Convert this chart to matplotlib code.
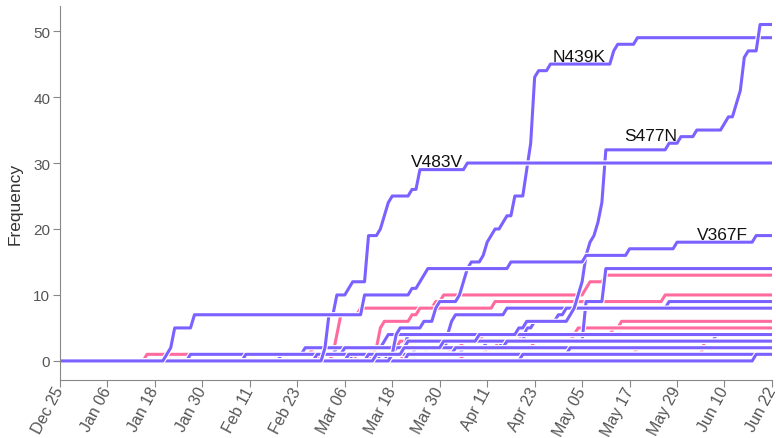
import matplotlib
matplotlib.use('Agg')
import matplotlib.pyplot as plt
import matplotlib.dates as mdates
import matplotlib.patheffects as pe
import pandas as pd

plt.rcParams['font.family'] = ['Liberation Sans', 'DejaVu Sans']

purple = '#7b61ff'
pink = '#ff6b9e'
start, end = '2019-12-25', '2020-06-22'

# cumulative frequency per mutation: (date the count changes, new count)
n439k = [('2020-03-18', 1), ('2020-03-19', 4), ('2020-03-20', 5), ('2020-03-26', 6),
         ('2020-03-29', 8), ('2020-03-30', 9), ('2020-04-04', 10), ('2020-04-05', 12),
         ('2020-04-06', 14), ('2020-04-07', 15), ('2020-04-10', 16), ('2020-04-11', 18),
         ('2020-04-12', 19), ('2020-04-13', 20), ('2020-04-15', 21), ('2020-04-16', 22),
         ('2020-04-18', 25), ('2020-04-21', 29), ('2020-04-22', 33), ('2020-04-23', 43),
         ('2020-04-24', 44), ('2020-04-27', 45), ('2020-05-13', 47), ('2020-05-14', 48),
         ('2020-05-19', 49)]
s477n = [('2020-03-14', 1), ('2020-03-21', 2), ('2020-03-31', 3), ('2020-04-09', 4),
         ('2020-04-19', 5), ('2020-04-21', 6), ('2020-05-02', 7), ('2020-05-03', 8),
         ('2020-05-04', 10), ('2020-05-05', 12), ('2020-05-06', 16), ('2020-05-07', 18),
         ('2020-05-08', 19), ('2020-05-09', 21), ('2020-05-10', 24), ('2020-05-11', 32),
         ('2020-05-27', 33), ('2020-05-30', 34), ('2020-06-03', 35), ('2020-06-10', 36),
         ('2020-06-11', 37), ('2020-06-13', 39), ('2020-06-14', 41), ('2020-06-15', 46),
         ('2020-06-16', 47), ('2020-06-19', 51)]
v483v = [('2020-03-01', 2), ('2020-03-02', 7), ('2020-03-04', 10), ('2020-03-07', 11),
         ('2020-03-08', 12), ('2020-03-12', 19), ('2020-03-15', 20), ('2020-03-16', 22),
         ('2020-03-17', 24), ('2020-03-18', 25), ('2020-03-23', 26), ('2020-03-25', 29),
         ('2020-04-06', 30)]
v367f = [('2020-01-21', 1), ('2020-01-22', 2), ('2020-01-23', 5), ('2020-01-28', 7),
         ('2020-03-11', 10), ('2020-03-23', 11), ('2020-03-25', 12), ('2020-03-26', 13),
         ('2020-03-27', 14), ('2020-04-17', 15), ('2020-05-06', 16), ('2020-05-17', 17),
         ('2020-05-29', 18), ('2020-06-18', 19)]

# other purple mutations
purple_other = [
    [('2020-03-22', 1), ('2020-04-05', 2), ('2020-04-15', 3), ('2020-05-06', 9), ('2020-05-11', 14)],
    [('2020-03-08', 1), ('2020-03-19', 2), ('2020-03-22', 4), ('2020-04-02', 6), ('2020-04-03', 7),
     ('2020-04-16', 8), ('2020-05-27', 9)],
    [('2020-03-15', 1), ('2020-03-24', 2), ('2020-04-11', 3), ('2020-04-21', 5), ('2020-04-23', 6),
     ('2020-04-29', 7), ('2020-05-01', 8)],
    [('2020-01-27', 1), ('2020-03-04', 2), ('2020-03-22', 3), ('2020-06-08', 4)],
    [('2020-02-19', 1), ('2020-02-25', 2), ('2020-03-16', 3), ('2020-03-17', 4)],
    [('2020-02-10', 1), ('2020-03-06', 2), ('2020-04-01', 3)],
    [('2020-02-28', 1), ('2020-03-19', 2), ('2020-04-16', 3)],
    [('2020-03-07', 1), ('2020-04-03', 2)],
    [('2020-03-12', 1), ('2020-05-02', 2)],
    [('2020-03-17', 1)],
    [('2020-03-22', 1)],
    [('2020-04-20', 1)],
    [('2020-06-18', 1)],
]

# pink mutations
pink_series = [
    [('2020-03-03', 1), ('2020-03-04', 4), ('2020-03-05', 7), ('2020-03-10', 8), ('2020-03-29', 9),
     ('2020-03-31', 10), ('2020-05-06', 11), ('2020-05-07', 12), ('2020-05-11', 13)],
    [('2020-03-13', 2), ('2020-03-15', 5), ('2020-03-16', 6), ('2020-03-23', 7), ('2020-03-25', 8),
     ('2020-04-13', 9), ('2020-05-26', 10)],
    [('2020-03-21', 1), ('2020-03-27', 2), ('2020-04-05', 3), ('2020-04-20', 4), ('2020-05-13', 5),
     ('2020-05-15', 6)],
    [('2020-03-18', 1), ('2020-04-02', 2), ('2020-04-14', 3), ('2020-05-03', 4), ('2020-05-04', 5)],
    [('2020-01-16', 1), ('2020-02-27', 2), ('2020-03-20', 3), ('2020-04-10', 4)],
    [('2020-02-29', 1), ('2020-03-14', 2), ('2020-04-23', 3)],
    [('2020-03-09', 1), ('2020-04-11', 2)],
    [('2020-03-21', 1), ('2020-05-19', 2)],
    [('2020-04-05', 1), ('2020-06-05', 3)],
]

labelled = {'N439K': (n439k, '2020-05-11'), 'S477N': (s477n, '2020-05-29'),
            'V483V': (v483v, '2020-04-05'), 'V367F': (v367f, '2020-06-16')}

days = pd.date_range(start, end, freq='D')


def daily(changes):
    s = pd.Series([v for d, v in changes], index=pd.to_datetime([d for d, v in changes]))
    return s.reindex(days).ffill().fillna(0)


fig = plt.figure(figsize=(7.76, 4.39), dpi=100)
ax = fig.add_axes([0.0773, 0.132, 0.9175, 0.852])

halo = [pe.Stroke(linewidth=3.8, foreground='white'), pe.Normal()]


def draw(changes, color):
    ax.plot(days, daily(changes).values, color=color, lw=2.2, solid_joinstyle='round',
            path_effects=halo)


for ch in pink_series:
    draw(ch, pink)
for ch in purple_other:
    draw(ch, purple)
for name, (ch, _) in labelled.items():
    draw(ch, purple)

for name, (ch, d) in labelled.items():
    y = daily(ch)[pd.Timestamp(d)]
    ax.annotate(name, (pd.Timestamp(d), y), xytext=(0, 2.5), textcoords='offset points',
                ha='right', va='baseline', fontsize=12.5, color='#111')

ax.set_xlim(pd.Timestamp(start), pd.Timestamp(end))
ax.set_ylim(-2.9, 53.8)
ax.set_xticks(pd.date_range(start, end, freq='12D'))
ax.xaxis.set_major_formatter(mdates.DateFormatter('%b %d'))
ax.set_yticks([0, 10, 20, 30, 40, 50])
for lab in ax.get_xticklabels():
    lab.set_rotation(62)
    lab.set_ha('right')
    lab.set_va('center')
    lab.set_rotation_mode('anchor')
ax.tick_params(axis='x', labelsize=11.5, colors='#555', length=5, color='#888', pad=0.5)
ax.tick_params(axis='y', labelsize=11, colors='#555', length=5, color='#888', pad=2)
ax.set_ylabel('Frequency', fontsize=12.5, color='#333')
ax.yaxis.set_label_coords(-0.052, 0.473)

for side in ['top', 'right']:
    ax.spines[side].set_visible(False)
for side in ['left', 'bottom']:
    ax.spines[side].set_color('#888')

fig.savefig('out.png', dpi=100)
